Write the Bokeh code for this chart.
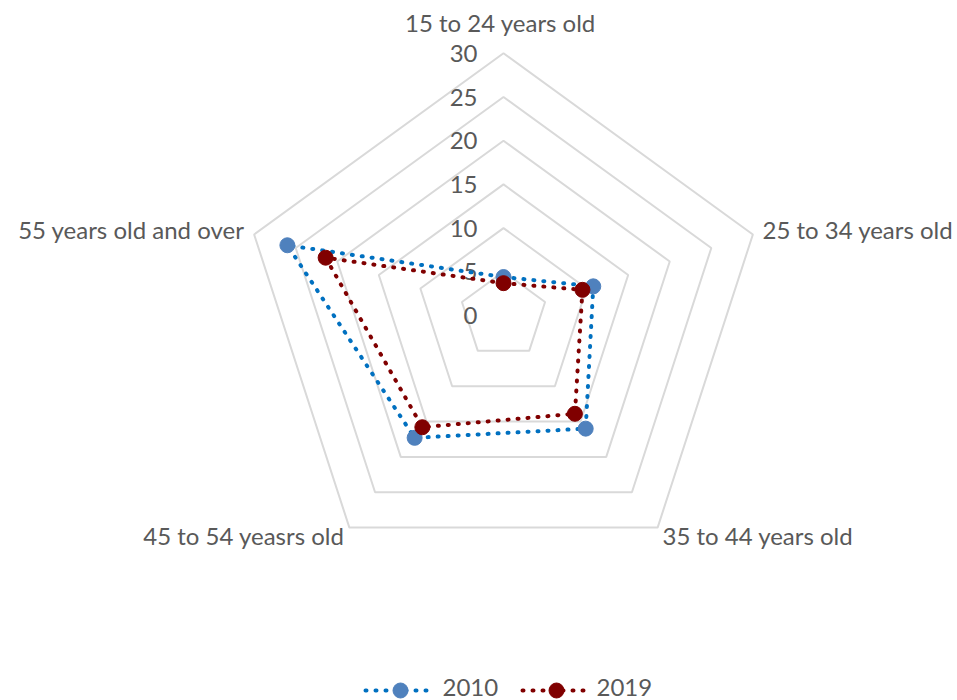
import numpy as np
from bokeh.plotting import figure
from bokeh.models import Range1d
from bokeh.core.properties import value
from bokeh.embed import file_html
from bokeh.resources import INLINE

categories = ["15 to 24 years old", "25 to 34 years old", "35 to 44 years old",
              "45 to 54 yeasrs old", "55 years old and over"]
series_names = ["2010", "2019"]
values_2010 = [4.4, 10.8, 16.0, 17.3, 26.0]
values_2019 = [3.7, 9.5, 13.9, 15.8, 21.4]
ring_ticks = [0, 5, 10, 15, 20, 25, 30]

W, H = 957, 700
CX, CY = 503, 315
PX_PER_UNIT = 43.7 / 5.0
FONT = value("Lato")
FS = "24px"
TXT = "#595959"
GRID = "#D9D9D9"
C1_LINE, C1_MARK = "#0070C0", "#4F81BD"
C2_LINE, C2_MARK = "#800000", "#800000"

p = figure(width=W, height=H, output_backend="svg", toolbar_location=None,
           x_range=Range1d(0, W), y_range=Range1d(H, 0), min_border=0)
p.axis.visible = False
p.grid.visible = False
p.outline_line_color = None
p.background_fill_color = "white"
p.border_fill_color = "white"

n = len(categories)
angles = np.pi / 2 - 2 * np.pi * np.arange(n) / n


def to_xy(vals):
    r = np.asarray(vals, dtype=float) * PX_PER_UNIT
    return CX + r * np.cos(angles), CY - r * np.sin(angles)


# rings
for t in ring_ticks[1:]:
    xs, ys = to_xy([t] * n)
    p.patch(list(xs), list(ys), fill_color=None, line_color=GRID, line_width=2)

# tick labels
tx = [477] * len(ring_ticks)
ty = [CY - t * PX_PER_UNIT for t in ring_ticks]
p.text(tx, ty, text=[str(t) for t in ring_ticks], text_align="right",
       text_baseline="middle", text_font=FONT, text_font_size=FS, text_color=TXT)

# category labels
lab_x = [500, 762, 662, 344, 244]
lab_y = [22, 229, 535, 535, 229]
lab_align = ["center", "left", "left", "right", "right"]
for cx_, cy_, al, c in zip(lab_x, lab_y, lab_align, categories):
    p.text([cx_], [cy_], text=[c], text_align=al, text_baseline="middle",
           text_font=FONT, text_font_size=FS, text_color=TXT)

DASH = "1 9"
for vals, lc, mc in [(values_2010, C1_LINE, C1_MARK), (values_2019, C2_LINE, C2_MARK)]:
    xs, ys = to_xy(vals)
    xs_c = list(xs) + [xs[0]]
    ys_c = list(ys) + [ys[0]]
    p.line(xs_c, ys_c, line_color=lc, line_width=4, line_dash=DASH, line_cap="round")
    p.scatter(list(xs), list(ys), size=15, fill_color=mc, line_color=mc)

# legend
LY = 690
for (x0, x1, xm, xt), name, lc, mc in [((365, 428, 400, 442), series_names[0], C1_LINE, C1_MARK),
                                       ((522, 592, 556, 596), series_names[1], C2_LINE, C2_MARK)]:
    p.line([x0, x1], [LY, LY], line_color=lc, line_width=4, line_dash=DASH, line_cap="round")
    p.scatter([xm], [LY], size=15, fill_color=mc, line_color=mc)
    p.text([xt], [LY - 3], text=[name], text_align="left", text_baseline="middle",
           text_font=FONT, text_font_size=FS, text_color=TXT)

open("out.html", "w").write(file_html(p, INLINE))
